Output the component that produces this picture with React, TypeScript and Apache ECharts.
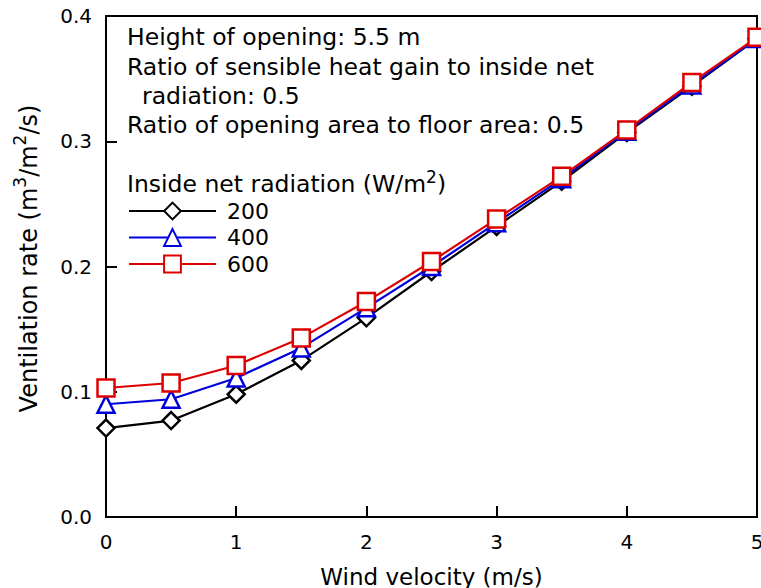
import React, { useEffect, useRef } from "react";
import * as echarts from "echarts";

const windVelocity = [0, 0.5, 1, 1.5, 2, 2.5, 3, 3.5, 4, 4.5, 5];
const seriesNames = ["200", "400", "600"];
const rad200 = [0.071, 0.077, 0.098, 0.125, 0.159, 0.196, 0.232, 0.268, 0.307, 0.344, 0.382];
const rad400 = [0.09, 0.094, 0.111, 0.135, 0.167, 0.2, 0.235, 0.27, 0.308, 0.345, 0.382];
const rad600 = [0.103, 0.107, 0.121, 0.143, 0.172, 0.204, 0.238, 0.272, 0.309, 0.347, 0.383];
const annotationLines = [
  "Height of opening: 5.5 m",
  "Ratio of sensible heat gain to inside net",
  "radiation: 0.5",
  "Ratio of opening area to floor area: 0.5",
];

const FONT = "DejaVu Sans";

export default function App() {
  const ref = useRef<HTMLDivElement>(null);
  useEffect(() => {
    if (!ref.current) return;
    const chart = echarts.init(ref.current, null, { renderer: "svg" });
    const mk = (vals: number[]) => windVelocity.map((x, i) => [x, vals[i]]);
    const colors = ["#000000", "#0000dd", "#dd0000"];
    const symbols = ["diamond", "triangle", "rect"];
    const allData = [rad200, rad400, rad600];
    const annoY = [38, 67.5, 96.5, 125.5];
    const annoX = [127, 127, 142, 127];
    chart.setOption({
      animation: false,
      textStyle: { fontFamily: FONT },
      grid: {
        left: 106,
        right: 4,
        top: 16,
        bottom: 71,
        outerBoundsMode: "none",
        containLabel: false,
        show: true,
        borderColor: "#000",
        borderWidth: 2,
        backgroundColor: "transparent",
      },
      legend: {
        left: 128,
        top: 200,
        padding: 0,
        orient: "vertical",
        itemWidth: 87,
        itemHeight: 21,
        itemGap: 4.5,
        data: seriesNames,
        textStyle: { fontSize: 22, color: "#000", fontFamily: FONT, padding: [0, 0, 0, 6] },
      },
      xAxis: {
        type: "value",
        min: 0,
        max: 5,
        interval: 1,
        name: "Wind velocity (m/s)",
        nameLocation: "middle",
        nameGap: 48,
        nameTextStyle: { fontSize: 23, color: "#000", fontFamily: FONT },
        axisLine: { lineStyle: { color: "#000", width: 2 } },
        axisTick: { inside: true, length: 11, lineStyle: { color: "#000", width: 2 } },
        axisLabel: { fontSize: 20, color: "#000", margin: 15, fontFamily: FONT },
        splitLine: { show: false },
      },
      yAxis: {
        type: "value",
        min: 0,
        max: 0.4,
        interval: 0.1,
        name: "{a|Ventilation rate (m}{b|3}{a|/m}{b|2}{a|/s)}",
        nameLocation: "middle",
        nameRotate: 90,
        nameGap: 65,
        nameTextStyle: {
          color: "#000",
          padding: [0, 0, 0, 16],
          rich: {
            a: { fontSize: 24, fontFamily: FONT, color: "#000", lineHeight: 30, verticalAlign: "bottom" },
            b: { fontSize: 17, fontFamily: FONT, color: "#000", lineHeight: 30, verticalAlign: "top" },
          },
        },
        axisLine: { lineStyle: { color: "#000", width: 2 } },
        axisTick: { inside: true, length: 11, lineStyle: { color: "#000", width: 2 } },
        axisLabel: {
          fontSize: 20,
          color: "#000",
          margin: 14,
          fontFamily: FONT,
          formatter: (v: number) => v.toFixed(1),
        },
        splitLine: { show: false },
      },
      graphic: [
        ...annotationLines.map((t, i) => ({
          type: "text",
          left: annoX[i],
          top: annoY[i] - 13,
          style: { text: t, fontSize: 23.5, fontFamily: FONT, fill: "#000" },
        })),
        {
          type: "text",
          left: 127,
          top: 168,
          style: {
            text: "{a|Inside net radiation (W/m}{b|2}{a|)}",
            rich: {
              a: { fontSize: 23.5, fontFamily: FONT, fill: "#000", lineHeight: 28, verticalAlign: "bottom" },
              b: { fontSize: 17, fontFamily: FONT, fill: "#000", lineHeight: 28, verticalAlign: "top" },
            },
          },
        },
      ],
      series: seriesNames.map((n, i) => ({
        name: n,
        type: "line",
        data: mk(allData[i]),
        symbol: symbols[i],
        symbolSize: 17,
        showAllSymbol: true,
        lineStyle: { color: colors[i], width: 2.2 },
        itemStyle: { color: "#fff", borderColor: colors[i], borderWidth: 2.5 },
        emphasis: { disabled: true },
        clip: false,
      })),
    });
    return () => chart.dispose();
  }, []);
  return <div ref={ref} style={{ width: 761, height: 588, position: "absolute", left: 0, top: 0 }} />;
}
